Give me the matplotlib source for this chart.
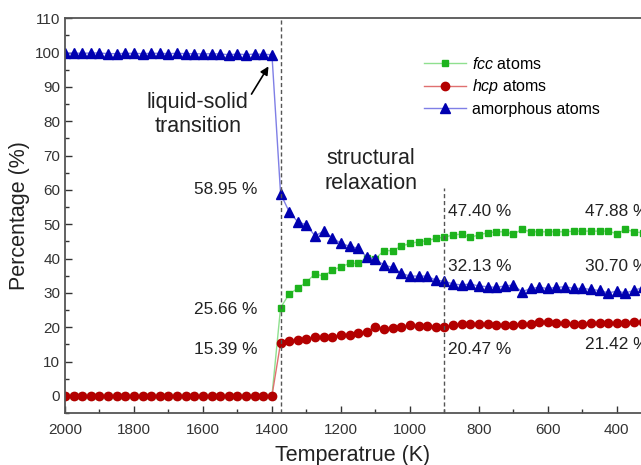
import matplotlib
matplotlib.use('Agg')
import matplotlib.pyplot as plt
from matplotlib.ticker import MultipleLocator
import numpy as np

plt.rcParams['font.family'] = ['Liberation Sans', 'DejaVu Sans']
plt.rcParams['mathtext.fontset'] = 'custom'
plt.rcParams['mathtext.rm'] = 'Liberation Sans'
plt.rcParams['mathtext.it'] = 'Liberation Sans:italic'

# temperature grid, 25 K steps from 2000 K down to 325 K
temperature = np.arange(2000, 324, -25)

# liquid region (2000 -> 1400 K), 25 points
fcc_liquid = [0.0] * 25
hcp_liquid = [0.0] * 25
amorph_liquid = [99.9, 99.9, 99.8, 99.9, 99.9, 99.7, 99.7, 99.8, 99.8, 99.7,
                 99.8, 99.8, 99.7, 99.8, 99.7, 99.7, 99.6, 99.7, 99.6, 99.4,
                 99.6, 99.4, 99.6, 99.5, 99.4]

# solid region (1375 -> 325 K), 43 points
fcc_solid = [25.66, 29.7, 31.3, 33.2, 35.5, 34.9, 36.6, 37.6, 38.6, 38.6,
             40.3, 40.0, 42.3, 42.3, 43.6, 44.4, 44.9, 45.2, 45.9, 46.2,
             46.9, 47.1, 46.2, 46.9, 47.5, 47.8, 47.8, 47.1, 48.5, 47.8,
             47.8, 47.8, 47.8, 47.8, 48.0, 48.0, 48.0, 48.0, 48.0, 47.2,
             48.5, 47.8, 47.5]
hcp_solid = [15.39, 16.0, 16.2, 16.7, 17.2, 17.1, 17.2, 17.7, 17.7, 18.2,
             18.7, 20.1, 19.4, 19.9, 20.1, 20.6, 20.3, 20.3, 20.1, 20.1,
             20.6, 20.8, 21.0, 20.8, 20.8, 20.6, 20.6, 20.6, 20.8, 21.0,
             21.6, 21.6, 21.3, 21.3, 21.0, 21.0, 21.2, 21.3, 21.3, 21.3,
             21.3, 21.6, 21.6]
amorph_solid = [58.95, 53.6, 50.7, 49.8, 46.6, 48.0, 46.1, 44.4, 43.6, 43.0,
                40.5, 39.8, 38.1, 37.4, 35.7, 34.9, 34.9, 34.9, 33.7, 33.4,
                32.6, 32.3, 32.6, 32.0, 31.8, 31.6, 32.0, 32.3, 30.3, 31.3,
                31.6, 31.3, 31.6, 31.8, 31.3, 31.3, 31.0, 30.7, 30.0, 30.5,
                30.0, 30.7, 31.6]

fcc = np.array(fcc_liquid + fcc_solid)
hcp = np.array(hcp_liquid + hcp_solid)
amorph = np.array(amorph_liquid + amorph_solid)

# values printed next to the curves: (T, y, text, alignment)
pct_labels = [(1443, 60, '58.95 %', 'right'), (1443, 25.2, '25.66 %', 'right'),
              (1443, 13.6, '15.39 %', 'right'),
              (890, 53.6, '47.40 %', 'left'), (890, 37.6, '32.13 %', 'left'),
              (890, 13.4, '20.47 %', 'left'),
              (493, 53.6, '47.88 %', 'left'), (493, 37.6, '30.70 %', 'left'),
              (493, 14.9, '21.42 %', 'left')]

fig = plt.figure(figsize=(6.41, 4.65), dpi=100)
ax = fig.add_axes([0.1014, 0.1118, 0.8986, 0.8488])

ax.plot(temperature, fcc, '-', color='#8fe08f', lw=1, marker='s', ms=5,
        mfc='#1db31d', mec='#1db31d', label=r'$\it{fcc}$ atoms')
ax.plot(temperature, hcp, '-', color='#e07070', lw=1, marker='o', ms=6,
        mfc='#b30000', mec='#b30000', label=r'$\it{hcp}$ atoms')
ax.plot(temperature, amorph, '-', color='#7f7fe6', lw=1, marker='^', ms=6.5,
        mfc='#0000b0', mec='#0000b0', label='amorphous atoms')

ax.axvline(1375, color='#555555', ls=(0, (3, 2)), lw=1)
ax.plot([900, 900], [-5, 60.5], color='#555555', ls=(0, (3, 2)), lw=1)

ax.set_xlim(2000, 330)
ax.set_ylim(-5, 110)
ax.xaxis.set_major_locator(MultipleLocator(200))
ax.xaxis.set_minor_locator(MultipleLocator(100))
ax.yaxis.set_major_locator(MultipleLocator(10))
ax.yaxis.set_minor_locator(MultipleLocator(5))
ax.tick_params(which='both', direction='in', colors='#333333', labelsize=11, width=1)
ax.tick_params(which='major', length=5)
ax.tick_params(which='minor', length=3)
ax.tick_params(axis='x', pad=7)

for s in ['left', 'bottom', 'top']:
    ax.spines[s].set_color('#555555')
    ax.spines[s].set_linewidth(1.3)
ax.spines['right'].set_visible(False)

ax.set_xlabel('Temperatrue (K)', fontsize=15.5, color='#222222', labelpad=6)
ax.set_ylabel('Percentage (%)', fontsize=15.5, color='#222222', labelpad=3)

ax.annotate('liquid-solid\ntransition', xy=(1410, 96), xytext=(1615, 82),
            ha='center', va='center', fontsize=15.5, color='#222222',
            linespacing=1.2,
            arrowprops=dict(arrowstyle='-|>', color='black', lw=1.2,
                            shrinkA=0, shrinkB=0, mutation_scale=12,
                            relpos=(1.0, 0.85)))
ax.text(1112, 65.5, 'structural\nrelaxation', ha='center', va='center',
        fontsize=15.5, color='#222222', linespacing=1.2)

for t, y, s, ha in pct_labels:
    ax.text(t, y, s, ha=ha, va='center', fontsize=12.4, color='#222222',
            clip_on=False)

leg = ax.legend(loc='upper left', bbox_to_anchor=(0.61, 0.925), frameon=False,
                fontsize=11.5, handlelength=2.6, handletextpad=0.4,
                labelspacing=0.35, borderpad=0)

fig.savefig('out.png', dpi=100)
